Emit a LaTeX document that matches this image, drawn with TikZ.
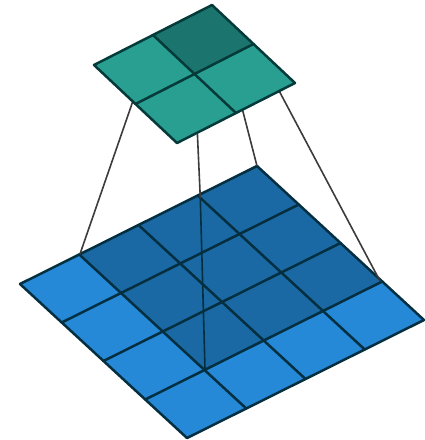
\documentclass[tikz,border=0pt]{standalone}
\definecolor{lightblue}{HTML}{2589D8}
\definecolor{darkblue}{HTML}{1B69A4}
\definecolor{tealcell}{HTML}{299F92}
\definecolor{tealdark}{HTML}{1B756E}
\definecolor{gridline}{HTML}{032F40}
\definecolor{tealline}{HTML}{043A3A}
\definecolor{linkline}{HTML}{3C3C3C}
\tikzset{
  inputcell/.style={fill=lightblue,draw=none},
  hiddencell/.style={fill=darkblue,draw=none},
  outcell/.style={fill=tealcell,draw=none},
  outhot/.style={fill=tealdark,draw=none},
  gridstroke/.style={draw=gridline,line width=2.5pt,line cap=round,line join=round},
  tealstroke/.style={draw=tealline,line width=2.5pt,line cap=round,line join=round},
  linkstroke/.style={draw=linkline,line width=1.6pt},
  linkover/.style={draw=gridline,line width=1.6pt}
}
\begin{document}
\begin{tikzpicture}[x=1pt,y=-1pt]
\useasboundingbox (0,0) rectangle (425,440);
\fill[white] (0,0) rectangle (425,440);
% lower grid: origin (20,284), u=(59.25,-29.5), v=(41.75,38.5)
\foreach \i in {0,...,3}{
  \foreach \j in {0,...,3}{
    \pgfmathsetmacro{\ax}{20+\i*59.25+\j*41.75}
    \pgfmathsetmacro{\ay}{284-\i*29.5+\j*38.5}
    \pgfmathtruncatemacro{\hot}{(\i>=1)&&(\j<=2)?1:0}
    \ifnum\hot=1
      \fill[hiddencell] (\ax,\ay) -- ++(59.25,-29.5) -- ++(41.75,38.5) -- ++(-59.25,29.5) -- cycle;
    \else
      \fill[inputcell] (\ax,\ay) -- ++(59.25,-29.5) -- ++(41.75,38.5) -- ++(-59.25,29.5) -- cycle;
    \fi
  }
}
\foreach \k in {0,...,4}{
  \pgfmathsetmacro{\ax}{20+\k*59.25}
  \pgfmathsetmacro{\ay}{284-\k*29.5}
  \draw[gridstroke] (\ax,\ay) -- ++(167,154.0);
  \pgfmathsetmacro{\bx}{20+\k*41.75}
  \pgfmathsetmacro{\by}{284+\k*38.5}
  \draw[gridstroke] (\bx,\by) -- ++(237,-118);
}
% connectors
\coordinate (c1) at (80,254);
\coordinate (c2) at (205,369);
\coordinate (c3) at (257,166);
\coordinate (c4) at (380,281);
\coordinate (t1) at (135,95);
\coordinate (t2) at (197,125);
\coordinate (t3) at (241,104);
\coordinate (t4) at (276,85);
\coordinate (c2mid) at (200.3,198);
\draw[linkstroke] (c1) -- (t1);
\draw[linkstroke] (c3) -- (t3);
\draw[linkstroke] (c4) -- (t4);
\draw[linkstroke] (c2mid) -- (t2);
\draw[linkover] (c2) -- (c2mid);
% upper grid
\fill[outcell] (94,65) -- (212,5) -- (295,83) -- (177,143) -- cycle;
\fill[outhot] (153,35) -- (212,5) -- (253.5,44) -- (194.5,74) -- cycle;
\draw[tealstroke] (94,65) -- (212,5) -- (295,83) -- (177,143) -- cycle;
\draw[tealstroke] (153,35) -- (236,113);
\draw[tealstroke] (135.5,104) -- (253.5,44);
\end{tikzpicture}
\end{document}
